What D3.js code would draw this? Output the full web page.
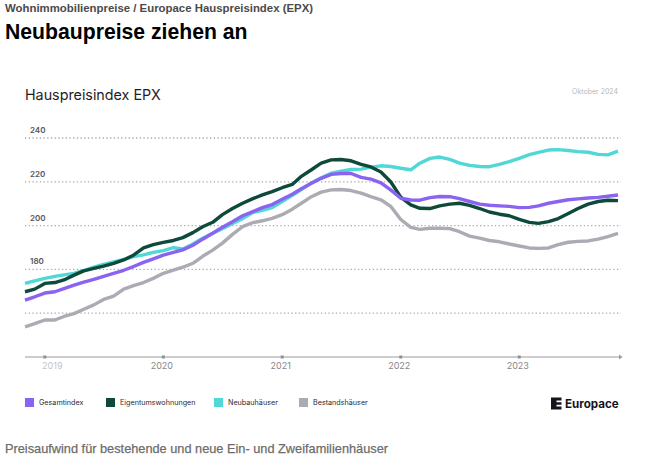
<!DOCTYPE html>
<html>
<head>
<meta charset="utf-8">
<script src="https://cdn.jsdelivr.net/npm/d3@7"></script>
<style>
  html, body { margin: 0; padding: 0; background: #fff; }
  svg { display: block; }
</style>
</head>
<body>
<svg id="chart" width="662" height="471"></svg>
<script>
// ---- data (monthly, Nov 2018 .. Nov 2023 as drawn on the reference axis) ----
const startMonth = [2018, 10];
const seriesNames = ["Gesamtindex", "Eigentumswohnungen", "Neubauhäuser", "Bestandshäuser"];
const seriesColors = ["#8a63f0", "#0d4a3b", "#4fd8d6", "#acabb3"];

const gesamtindex = [166.0,167.5,169.2,169.8,171.2,172.8,174.2,175.4,176.8,178.2,179.6,181.3,183.2,184.8,186.5,187.8,188.9,191.0,193.8,196.5,199.3,201.8,204.5,206.3,208.2,209.6,212.0,214.3,216.8,219.3,221.6,223.4,223.8,223.8,222.0,221.2,219.5,216.3,212.5,211.7,211.6,212.8,213.3,213.2,212.3,211.0,209.8,209.3,209.0,208.8,208.2,208.3,209.0,210.2,211.0,211.8,212.2,212.6,212.9,213.4,214.0];
const eigentumswohnungen = [169.8,171.0,173.6,174.0,175.2,177.4,179.3,180.5,181.5,182.8,184.3,186.5,189.8,191.3,192.3,193.2,194.5,196.8,199.5,201.5,205.0,207.8,210.2,212.2,214.0,215.5,217.3,218.8,222.5,225.5,228.5,230.0,230.2,229.6,228.0,226.8,224.5,220.0,213.0,209.5,207.9,207.8,209.0,209.8,210.2,209.2,207.8,206.2,205.2,204.5,202.8,201.5,201.0,201.8,203.2,205.5,207.8,209.8,211.0,211.6,211.4];
const neubauhaeuser = [173.6,174.8,175.9,176.8,177.5,178.2,179.5,181.0,182.3,183.4,184.6,185.8,186.6,187.8,188.6,189.9,189.3,191.6,194.2,196.5,198.6,201.0,203.2,205.9,207.0,208.2,211.0,213.8,216.5,219.5,221.8,223.9,224.8,225.6,225.8,226.7,227.3,227.0,226.2,225.5,228.5,230.7,231.3,230.2,228.5,227.5,227.0,226.9,228.0,229.2,230.7,232.4,233.4,234.5,234.7,234.3,233.8,233.5,232.5,232.3,234.0];
const bestandshaeuser = [153.8,155.2,156.9,156.9,158.5,159.8,161.8,163.8,166.3,167.8,171.0,172.6,174.0,175.9,178.2,179.7,181.0,182.8,186.0,188.8,192.0,196.0,199.5,201.3,202.2,203.3,205.0,207.5,210.2,213.2,215.3,216.3,216.5,216.0,214.8,213.2,211.8,208.8,202.8,199.2,198.3,198.8,198.8,198.6,197.2,195.2,194.3,193.2,192.6,191.6,190.7,189.8,189.6,189.8,191.3,192.4,192.8,193.0,193.8,195.0,196.5];

const yTicks = [160, 180, 200, 220, 240];
const yTickLabels = ["", "180", "200", "220", "240"];
const xTickYears = [2019, 2020, 2021, 2022, 2023];

const headerText = "Wohnimmobilienpreise / Europace Hauspreisindex (EPX)";
const titleText = "Neubaupreise ziehen an";
const chartTitle = "Hauspreisindex EPX";
const dateNote = "Oktober 2024";
const footerText = "Preisaufwind für bestehende und neue Ein- und Zweifamilienhäuser";

// ---- build ----
const allSeries = [gesamtindex, eigentumswohnungen, neubauhaeuser, bestandshaeuser];
const dates = gesamtindex.map((_, i) => new Date(startMonth[0], startMonth[1] + i, 1));

const svg = d3.select("#chart");
const font = "Inter, 'Noto Sans', sans-serif";

const x = d3.scaleTime()
  .domain([dates[0], dates[dates.length - 1]])
  .range([25, 618]);
const y = d3.scaleLinear().domain([140, 240]).range([357, 138]);

// header
svg.append("text").attr("x", 5).attr("y", 11.5)
  .attr("font-family", "'Liberation Sans', Arial, sans-serif")
  .attr("font-weight", "bold").attr("font-size", 11.4).attr("fill", "#4a4a4a")
  .text(headerText);
svg.append("text").attr("x", 5).attr("y", 38.5)
  .attr("font-family", "'Liberation Sans', Arial, sans-serif")
  .attr("font-weight", "bold").attr("font-size", 21.2).attr("fill", "#000")
  .text(titleText);

// chart title + note
svg.append("text").attr("x", 25).attr("y", 99.5)
  .attr("font-family", font).attr("font-size", 14.3).attr("fill", "#1e1e24")
  .text(chartTitle);
svg.append("text").attr("x", 618).attr("y", 93.5).attr("text-anchor", "end")
  .attr("font-family", font).attr("font-size", 7).attr("fill", "#b8b8bc")
  .text(dateNote);

// gridlines
const grid = svg.append("g");
grid.selectAll("line").data(yTicks).join("line")
  .attr("x1", 25).attr("x2", 621)
  .attr("y1", d => y(d)).attr("y2", d => y(d))
  .attr("stroke", "#a9a9ae").attr("stroke-width", 1.3)
  .attr("stroke-dasharray", "1.3,2.4");
grid.selectAll("text").data(yTicks).join("text")
  .attr("x", 30).attr("y", d => y(d) - 5)
  .attr("font-family", font).attr("font-weight", 600).attr("font-size", 8)
  .attr("fill", "#55555c")
  .text((d, i) => yTickLabels[i]);

// x axis
const xAxis = d3.axisBottom(x)
  .tickValues(xTickYears.map(yr => new Date(yr, 0, 1)))
  .tickFormat(d3.timeFormat("%Y"))
  .tickSize(0).tickPadding(6);
const gx = svg.append("g").attr("transform", "translate(0,357)").call(xAxis);
gx.select(".domain").remove();
gx.selectAll("text")
  .attr("font-family", font).attr("font-size", 9)
  .attr("fill", (d, i) => i === 0 ? "#c4c4c8" : "#86868c")
  .attr("dx", (d, i) => i === 0 ? 7 : -2);

svg.append("line").attr("x1", 25).attr("x2", 619).attr("y1", 357).attr("y2", 357)
  .attr("stroke", "#9a9aa0").attr("stroke-width", 1);
svg.append("path").attr("d", "M619,354.5 L622.5,357 L619,359.5 Z").attr("fill", "#9a9aa0");
svg.append("g").selectAll("rect").data(xTickYears).join("rect")
  .attr("x", d => x(new Date(d, 0, 1)) - 1.5).attr("y", 355.5)
  .attr("width", 3).attr("height", 3).attr("fill", "#8e8e94");

// lines (drawn gray, cyan, green, purple)
const line = d3.line().x((d, i) => x(dates[i])).y(d => y(d));
const order = [3, 2, 1, 0];
svg.append("g").selectAll("path").data(order).join("path")
  .attr("d", k => line(allSeries[k]))
  .attr("fill", "none")
  .attr("stroke", k => seriesColors[k])
  .attr("stroke-width", 3.4)
  .attr("stroke-linejoin", "round")
  .attr("stroke-linecap", "butt");

// legend
const legendX = [25, 106, 214, 299];
const lg = svg.append("g").selectAll("g").data(seriesNames).join("g")
  .attr("transform", (d, i) => `translate(${legendX[i]},398)`);
lg.append("rect").attr("width", 9).attr("height", 9).attr("fill", (d, i) => seriesColors[i]);
lg.append("text").attr("x", 14).attr("y", 7)
  .attr("font-family", font).attr("font-size", 7.2).attr("fill", "#2a2a30")
  .text(d => d);

// Europace logo
const logo = svg.append("g");
logo.append("path")
  .attr("d", "M551,397.5 h10.5 v3 h-5 v1.8 h5 v2.4 h-5 v1.8 h5 v3 h-10.5 Z")
  .attr("fill", "#14141c");
logo.append("text").attr("x", 565).attr("y", 407.5)
  .attr("font-family", font).attr("font-weight", 700).attr("font-size", 11.6)
  .attr("fill", "#14141c").text("Europace");

// footer
svg.append("text").attr("x", 5).attr("y", 452.5)
  .attr("font-family", "'Liberation Sans', Arial, sans-serif")
  .attr("font-size", 13.5).attr("fill", "#6c6c6c")
  .attr("stroke", "#6c6c6c").attr("stroke-width", 0.25)
  .attr("textLength", 383).attr("lengthAdjust", "spacingAndGlyphs")
  .text(footerText);
</script>
</body>
</html>
